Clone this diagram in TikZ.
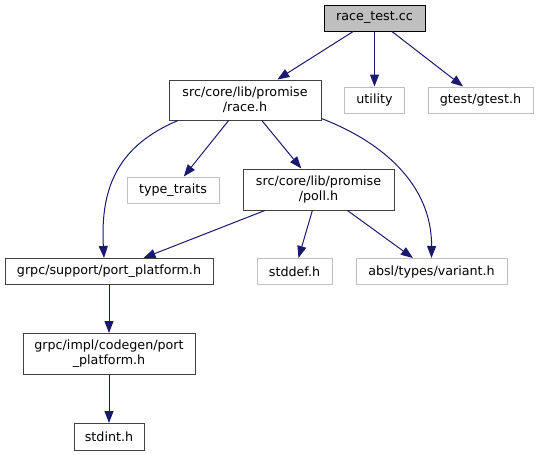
\documentclass[tikz,border=0pt]{standalone}
\usepackage{fontspec}
\setmainfont{DejaVu Sans}
\usetikzlibrary{arrows.meta}
\definecolor{edgec}{HTML}{191970}
\definecolor{gseven}{HTML}{BFBFBF}
\definecolor{gtwo}{HTML}{404040}
\begin{document}
\begin{tikzpicture}[x=1pt,y=-1pt,
  box/.style={draw=gtwo, line width=1pt, fill=white, inner sep=0pt, align=center,
    font=\fontsize{12.7}{15}\selectfont, minimum height=26pt},
  ext/.style={box, draw=gseven},
  root/.style={box, draw=black, fill=gseven},
  dep/.style={draw=edgec, line width=1pt, -{Triangle[length=12pt,width=9pt]}}]
\useasboundingbox (0,0) rectangle (539,455);
\node[root, minimum width=101pt] (rt) at (374.5,18) {race\_test.cc};
\node[box, minimum width=152pt, minimum height=40pt] (race) at (245,100) {src/core/lib/promise\\/race.h};
\node[ext, minimum width=60pt] (util) at (374.5,100) {utility};
\node[ext, minimum width=105pt] (gtest) at (480.5,100) {gtest/gtest.h};
\node[ext, minimum width=92pt] (tt) at (173,190) {type\_traits};
\node[box, minimum width=151pt, minimum height=41pt] (poll) at (318.5,189.5) {src/core/lib/promise\\/poll.h};
\node[box, minimum width=208pt] (sup) at (109,271.5) {grpc/support/port\_platform.h};
\node[ext, minimum width=75pt] (stddef) at (294.5,271.5) {stddef.h};
\node[ext, minimum width=151pt] (absl) at (431.5,271.5) {absl/types/variant.h};
\node[box, minimum width=172pt, minimum height=41pt] (impl) at (109,354) {grpc/impl/codegen/port\\\_platform.h};
\node[box, minimum width=70pt, minimum height=27pt] (stdint) at (109,437) {stdint.h};

\draw[dep] (rt) -- (race);
\draw[dep] (rt) -- (util);
\draw[dep] (rt) -- (gtest);
\draw[dep] ([xshift=-67pt]race.south) .. controls (120,145) and (100,185) .. ([xshift=-5pt]sup.north);
\draw[dep] (race) -- (tt);
\draw[dep] (race) -- (poll);
\draw[dep] ([yshift=2pt]race.south east) .. controls (390,145) and (432,190) .. (absl.north);
\draw[dep] (poll) -- (sup);
\draw[dep] (poll) -- (stddef);
\draw[dep] (poll) -- (absl);
\draw[dep] (sup) -- (impl);
\draw[dep] (impl) -- (stdint);
\end{tikzpicture}
\end{document}
